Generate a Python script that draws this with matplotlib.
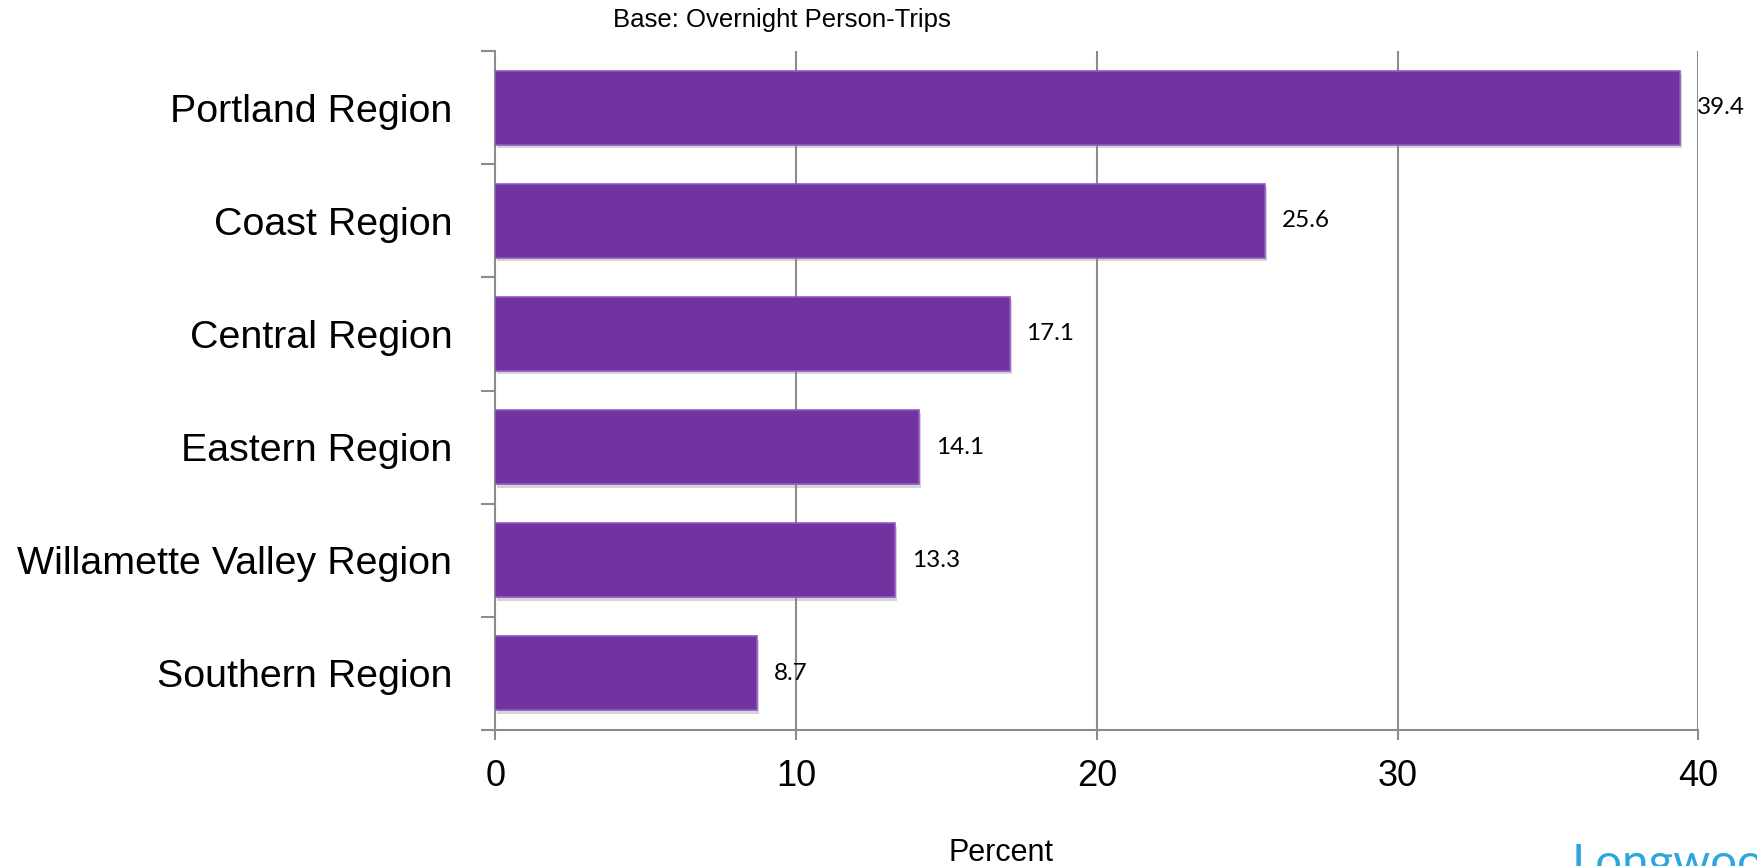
import matplotlib
matplotlib.use("Agg")
import matplotlib.pyplot as plt
import matplotlib.patheffects as pe
from matplotlib import font_manager

categories = ["Portland Region", "Coast Region", "Central Region",
              "Eastern Region", "Willamette Valley Region", "Southern Region"]
values = [39.4, 25.6, 17.1, 14.1, 13.3, 8.7]
x_ticks = [0, 10, 20, 30, 40]
title = "Base: Overnight Person-Trips"
xlabel = "Percent"

W, H = 1757, 866
fig = plt.figure(figsize=(W / 100, H / 100), dpi=100)
ax = fig.add_axes([495.3 / W, 1 - 730 / H, (1698.3 - 495.3) / W, (730 - 51) / H])

installed = {f.name for f in font_manager.fontManager.ttflist}
label_family = [f for f in ["Liberation Sans Narrow", "Arial Narrow", "Liberation Sans", "DejaVu Sans"]
                if f in installed] or ["DejaVu Sans"]

pos = list(range(len(categories)))
bars = ax.barh(pos, values, height=0.655, color="#7133A0",
               edgecolor="#9257C4", linewidth=1.2, zorder=3)
for b in bars:
    b.set_path_effects([pe.SimplePatchShadow(offset=(1.5, -2.5), shadow_rgbFace="#888888", alpha=0.35),
                        pe.Normal()])

for p, v in zip(pos, values):
    ax.annotate(f"{v:.1f}", xy=(v, p), xytext=(12, 0), textcoords="offset points",
                va="center", ha="left", fontsize=17.5, family=["Lato", "DejaVu Sans"],
                color="black", zorder=5)

ax.set_xlim(0, 40)
ax.set_ylim(len(categories) - 0.5, -0.5)

grid_color = "#8c8c8c"
for x in x_ticks[1:]:
    ax.axvline(x, color=grid_color, linewidth=1.5, zorder=1)

for s in ["top", "right"]:
    ax.spines[s].set_visible(False)
for s in ["left", "bottom"]:
    ax.spines[s].set_color(grid_color)
    ax.spines[s].set_linewidth(1.5)

ax.set_xticks(x_ticks)
ax.set_xticklabels([str(t) for t in x_ticks], fontsize=26, family=["Liberation Sans", "DejaVu Sans"])
ax.tick_params(axis="x", direction="out", length=7, width=1.5, color=grid_color, pad=14)

ax.set_yticks([i - 0.5 for i in range(len(categories) + 1)], minor=False)
ax.set_yticklabels([])
ax.tick_params(axis="y", which="major", direction="out", length=10, width=1.5, color=grid_color)
ax.set_yticks(pos, minor=True)
ylabels = ax.set_yticklabels(categories, minor=True, fontsize=34, family=label_family)
ax.tick_params(axis="y", which="minor", length=0, pad=31)

# fit the longest category label to the reference width (~435 px)
fig.canvas.draw()
renderer = fig.canvas.get_renderer()
widest = max(t.get_window_extent(renderer).width for t in ylabels)
if widest > 0:
    size = min(34, 34 * 435.0 / widest)
    for t in ylabels:
        t.set_fontsize(size)

fig.text(781.5 / W, 1 - 27 / H, title, ha="center", va="baseline", fontsize=18.5,
         family=["Liberation Sans", "DejaVu Sans"])
fig.text(1001 / W, 1 - 861 / H, xlabel, ha="center", va="baseline", fontsize=22,
         family=["Liberation Sans", "DejaVu Sans"])
fig.text(1572 / W, 1 - 843 / H, "Longwoods", ha="left", va="top", fontsize=34,
         color="#2BA6DE", family=["Lato", "DejaVu Sans"])

fig.savefig("out.png", dpi=100, facecolor="white")
